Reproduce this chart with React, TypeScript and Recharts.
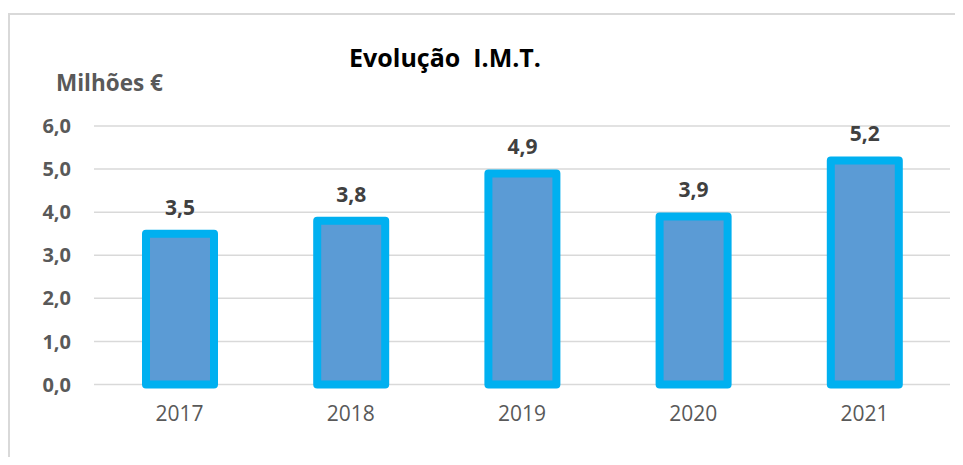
import { BarChart, Bar, XAxis, YAxis, CartesianGrid, LabelList } from "recharts";

const years = ["2017", "2018", "2019", "2020", "2021"];
const imtValues = [3.5, 3.8, 4.9, 3.9, 5.2];
const yTicks = [0, 1, 2, 3, 4, 5, 6];

const data = years.map((year, i) => ({ year, total: imtValues[i] }));

const fmt = (v: number) => Number(v).toFixed(1).replace(".", ",");

const FONT = "'Open Sans', sans-serif";

export default function App() {
  return (
    <div style={{ position: "relative", width: 947, height: 449, overflow: "hidden", fontFamily: FONT }}>
      <div
        style={{
          position: "absolute",
          left: 0,
          top: 5,
          width: 1200,
          height: 800,
          borderTop: "2px solid #d9d9d9",
          borderLeft: "2px solid #d9d9d9",
        }}
      />
      <BarChart
        width={947}
        height={449}
        data={data}
        margin={{ top: 118, right: 5, bottom: 42.5, left: 26 }}
        style={{ position: "absolute", left: 0, top: 0 }}
      >
        <CartesianGrid vertical={false} stroke="#d9d9d9" strokeWidth={1.5} />
        <XAxis
          dataKey="year"
          axisLine={false}
          tickLine={false}
          tickSize={0}
          tickMargin={22}
          height={30}
          tick={{ fill: "#595959", fontSize: 21, fontFamily: FONT }}
        />
        <YAxis
          domain={[0, 6]}
          ticks={yTicks}
          interval={0}
          width={60}
          axisLine={false}
          tickLine={false}
          tickSize={0}
          tickMargin={23}
          tickFormatter={fmt}
          tick={{ fill: "#595959", fontSize: 20, fontWeight: 700, fontFamily: FONT }}
        />
        <Bar
          dataKey="total"
          fill="#5b9bd5"
          stroke="#00b0f0"
          strokeWidth={8}
          strokeLinejoin="round"
          barSize={68}
          isAnimationActive={false}
        >
          <LabelList
            dataKey="total"
            position="top"
            offset={19}
            formatter={(v: any) => fmt(v)}
            style={{ fill: "#404040", fontSize: 21, fontWeight: 700, fontFamily: FONT }}
          />
        </Bar>
      </BarChart>
      <svg width={947} height={120} style={{ position: "absolute", left: 0, top: 0, pointerEvents: "none" }}>
        <text x={437} y={59} textAnchor="middle" fontFamily={FONT} fontSize={25} fontWeight={700} fill="#000" xmlSpace="preserve">
          Evolução  I.M.T.
        </text>
        <text x={48} y={83} fontFamily={FONT} fontSize={22.5} fontWeight={700} fill="#595959">
          Milhões €
        </text>
      </svg>
    </div>
  );
}
